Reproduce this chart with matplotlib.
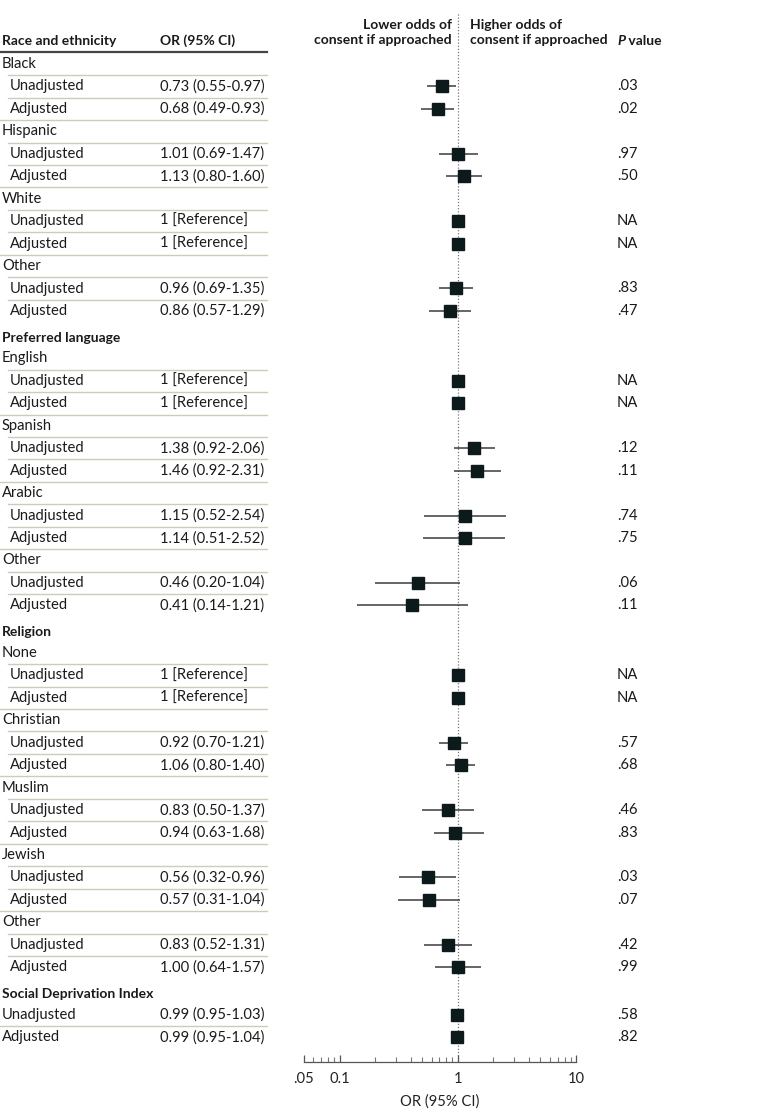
import matplotlib
matplotlib.use("Agg")
import matplotlib.pyplot as plt
from matplotlib import transforms
from matplotlib.lines import Line2D
from matplotlib.ticker import FixedLocator, NullFormatter

plt.rcParams['font.family'] = ['Lato', 'DejaVu Sans']

# ---------------- data ----------------
section_names = ["Race and ethnicity", "Preferred language", "Religion", "Social Deprivation Index"]
group_names = ["Black", "Hispanic", "White", "Other",
               "English", "Spanish", "Arabic", "Other",
               "None", "Christian", "Muslim", "Jewish", "Other",
               ""]
group_section = [0, 0, 0, 0, 1, 1, 1, 1, 2, 2, 2, 2, 2, 3]
is_reference = [False, False, True, False,
                True, False, False, False,
                True, False, False, False, False,
                False]

unadj_or = [0.73, 1.01, 1.00, 0.96, 1.00, 1.38, 1.15, 0.46, 1.00, 0.92, 0.83, 0.56, 0.83, 0.99]
unadj_lo = [0.55, 0.69, None, 0.69, None, 0.92, 0.52, 0.20, None, 0.70, 0.50, 0.32, 0.52, 0.95]
unadj_hi = [0.97, 1.47, None, 1.35, None, 2.06, 2.54, 1.04, None, 1.21, 1.37, 0.96, 1.31, 1.03]
unadj_p = [".03", ".97", "NA", ".83", "NA", ".12", ".74", ".06", "NA", ".57", ".46", ".03", ".42", ".58"]

adj_or = [0.68, 1.13, 1.00, 0.86, 1.00, 1.46, 1.14, 0.41, 1.00, 1.06, 0.94, 0.57, 1.00, 0.99]
adj_lo = [0.49, 0.80, None, 0.57, None, 0.92, 0.51, 0.14, None, 0.80, 0.63, 0.31, 0.64, 0.95]
adj_hi = [0.93, 1.60, None, 1.29, None, 2.31, 2.52, 1.21, None, 1.40, 1.68, 1.04, 1.57, 1.04]
adj_p = [".02", ".50", "NA", ".47", "NA", ".11", ".75", ".11", "NA", ".68", ".83", ".07", ".99", ".82"]

x_ticks = [0.05, 0.1, 1, 10]
x_tick_labels = [".05", "0.1", "1", "10"]

# ---------------- layout ----------------
W, H = 780, 1119
fig = plt.figure(figsize=(W / 100, H / 100), dpi=100)
fig.patch.set_facecolor('white')
AX_L, AX_R, AX_B = 304, 576, 1062
ax = fig.add_axes([AX_L / W, (H - AX_B) / H, (AX_R - AX_L) / W, AX_B / H])
ax.set_xscale('log')
ax.set_xlim(0.05, 10)
ax.set_ylim(AX_B, 0)
ax.patch.set_alpha(0)
for s in ['top', 'left', 'right']:
    ax.spines[s].set_visible(False)
ax.spines['bottom'].set_color('#555555')
ax.spines['bottom'].set_linewidth(0.9)
ax.set_yticks([])
ax.xaxis.set_major_locator(FixedLocator(x_ticks))
ax.set_xticklabels(x_tick_labels)
minors = [v * m for v in (0.01, 0.1, 1) for m in range(2, 10) if 0.05 < v * m < 10]
ax.xaxis.set_minor_locator(FixedLocator(minors))
ax.xaxis.set_minor_formatter(NullFormatter())
ax.tick_params(axis='x', which='major', direction='in', length=5, width=0.9,
               color='#555555', labelsize=10.6, labelcolor='#222222', pad=7)
ax.tick_params(axis='x', which='minor', direction='in', length=3.5, width=0.8, color='#777777')
ax.set_xlabel("OR (95% CI)", fontsize=10.6, color='#222222', labelpad=6)

trans = transforms.blended_transform_factory(fig.transFigure, ax.transData)
FS = 10.6
FSB = 10.0
TXT = '#1a1a1a'

# rows
entries = []
for si, sname in enumerate(section_names):
    if si > 0:
        entries.append(('section', sname, None, None))
    for g, gname in enumerate(group_names):
        if group_section[g] != si:
            continue
        if gname:
            entries.append(('group', gname, g, None))
        entries.append(('sub', 'Unadjusted', g, 'u'))
        entries.append(('sub', 'Adjusted', g, 'a'))

ys = []
y = 64.0
for i, e in enumerate(entries):
    if i > 0:
        if e[0] == 'section':
            y += 27
        elif entries[i - 1][0] == 'section':
            y += 20.5
        else:
            y += 22.45
    ys.append(y)

# header
fig.text(2 / W, 41, "Race and ethnicity", transform=trans, fontsize=FSB, fontweight='bold',
         va='center', ha='left', color=TXT)
fig.text(160 / W, 41, "OR (95% CI)", transform=trans, fontsize=FSB, fontweight='bold',
         va='center', ha='left', color=TXT)
tp = fig.text(617 / W, 41, "P", transform=trans, fontsize=FSB, fontweight='bold', style='italic',
              va='center', ha='left', color=TXT)
ax.annotate(" value", xy=(1, 0.5), xycoords=tp, va='center', ha='left', fontsize=FSB,
            fontweight='bold', color=TXT, annotation_clip=False)
fig.text(452 / W, 32.5, "Lower odds of\nconsent if approached", transform=trans, fontsize=FSB,
         fontweight='bold', va='center', ha='right', color=TXT, linespacing=1.3,
         multialignment='right')
fig.text(470 / W, 32.5, "Higher odds of\nconsent if approached", transform=trans, fontsize=FSB,
         fontweight='bold', va='center', ha='left', color=TXT, linespacing=1.3,
         multialignment='left')
fig.add_artist(Line2D([0, 267 / W], [52, 52], transform=trans, color='#444444', lw=1.6))

# reference line at OR = 1
ax.plot([1, 1], [AX_B, 12], ls=(0, (1, 1.5)), color='#777777', lw=0.9, clip_on=False, zorder=1)

for i, (e, yy) in enumerate(zip(entries, ys)):
    kind, label, g, which = e
    if kind == 'section':
        fig.text(2 / W, yy, label, transform=trans, fontsize=FSB, fontweight='bold',
                 va='center', ha='left', color=TXT)
    elif kind == 'group':
        fig.text(2 / W, yy, label, transform=trans, fontsize=FS, va='center', ha='left', color=TXT)
    else:
        indent = 10 if group_names[g] else 2
        fig.text(indent / W, yy, label, transform=trans, fontsize=FS, va='center', ha='left', color=TXT)
        est = unadj_or[g] if which == 'u' else adj_or[g]
        lo = unadj_lo[g] if which == 'u' else adj_lo[g]
        hi = unadj_hi[g] if which == 'u' else adj_hi[g]
        p = unadj_p[g] if which == 'u' else adj_p[g]
        if is_reference[g]:
            ortxt = "1 [Reference]"
        else:
            ortxt = f"{est:.2f} ({lo:.2f}-{hi:.2f})"
        fig.text(160 / W, yy, ortxt, transform=trans, fontsize=FS, va='center', ha='left', color=TXT)
        fig.text(617 / W, yy, p, transform=trans, fontsize=FS, va='center', ha='left', color=TXT)
        if lo is not None:
            ax.plot([lo, hi], [yy, yy], color='#3c3c3c', lw=1.1, zorder=2, solid_capstyle='butt')
        ax.plot([est], [yy], marker='s', ms=8.8, color='#0c1a1c', zorder=3, linestyle='none')
    # separator
    if kind != 'section' and i + 1 < len(entries) and entries[i + 1][0] != 'section':
        nxt = entries[i + 1]
        x0 = 8 if (nxt[0] == 'sub' and group_names[nxt[2]]) else 0
        ymid = (yy + ys[i + 1]) / 2
        fig.add_artist(Line2D([x0 / W, 267 / W], [ymid, ymid], transform=trans,
                              color='#cbccba', lw=1.0))

fig.savefig("out.png", dpi=100, facecolor='white')
